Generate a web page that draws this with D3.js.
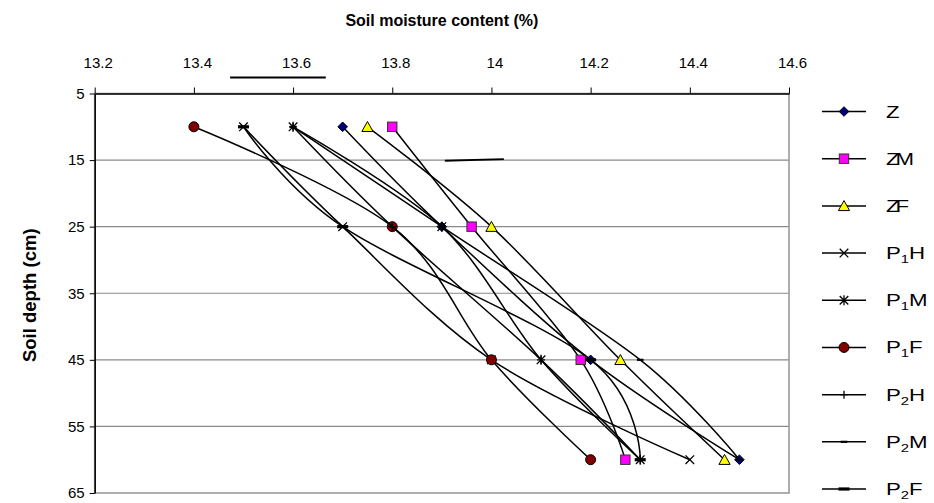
<!DOCTYPE html>
<html>
<head>
<meta charset="utf-8">
<script src="https://cdn.jsdelivr.net/npm/d3@7"></script>
<style>
  html, body { margin: 0; padding: 0; background: #fff; }
  svg { display: block; font-family: "Liberation Sans", Arial, sans-serif; }
</style>
</head>
<body>
<svg id="chart" width="934" height="503"></svg>
<script>
// ---- data ----
const depths = [10, 25, 45, 60];
const seriesNames = ["Z", "ZM", "ZF", "P1H", "P1M", "P1F", "P2H", "P2M", "P2F"];
const Z   = [13.7, 13.9, 14.2, 14.5];
const ZM  = [13.8, 13.96, 14.18, 14.27];
const ZF  = [13.75, 14.0, 14.26, 14.47];
const P1H = [13.5, 13.7, 14.0, 14.4];
const P1M = [13.6, 13.9, 14.1, 14.3];
const P1F = [13.4, 13.8, 14.0, 14.2];
const P2H = [13.6, 13.8, 14.1, 14.3];
const P2M = [13.6, 13.9, 14.3, 14.5];
const P2F = [13.5, 13.7, 14.2, 14.3];
const xTicks = [13.2, 13.4, 13.6, 13.8, 14, 14.2, 14.4, 14.6];
const xTickLabels = ["13.2", "13.4", "13.6", "13.8", "14", "14.2", "14.4", "14.6"];
const yTicks = [5, 15, 25, 35, 45, 55, 65];
// stray strokes visible on the original figure (data coordinates)
const strayStrokes = [
  [[13.906, 15.1], [14.025, 14.85]],
  [[13.473, 2.6], [13.666, 2.6]]
];

const seriesValues = [Z, ZM, ZF, P1H, P1M, P1F, P2H, P2M, P2F];

// ---- layout ----
const svg = d3.select("#chart");
const x = d3.scaleLinear().domain([13.2, 14.6]).range([94.7, 789]);
const y = d3.scaleLinear().domain([5, 65]).range([93.5, 493]);

// gridlines
svg.append("g").selectAll("line").data(yTicks.slice(1, -1)).join("line")
  .attr("x1", x.range()[0]).attr("x2", x.range()[1])
  .attr("y1", d => y(d)).attr("y2", d => y(d))
  .attr("stroke", "#8a8a8a").attr("stroke-width", 1.2);

// plot border (right/bottom gray)
svg.append("rect")
  .attr("x", x.range()[0]).attr("y", y.range()[0])
  .attr("width", x.range()[1] - x.range()[0]).attr("height", y.range()[1] - y.range()[0])
  .attr("fill", "none").attr("stroke", "#9a9a9a").attr("stroke-width", 1.6);

// axes
const xAxis = svg.append("g").attr("transform", `translate(0,${y.range()[0]})`)
  .call(d3.axisTop(x).tickValues(xTicks).tickSize(6).tickPadding(20)
    .tickFormat((d, i) => xTickLabels[i]).tickSizeOuter(0));
xAxis.select(".domain").attr("stroke", "#000").attr("stroke-width", 1.5);
xAxis.selectAll(".tick line").attr("stroke", "#000");
xAxis.selectAll("text").attr("font-size", 15).attr("fill", "#000").attr("dx", 3)
  .attr("font-family", "Liberation Sans, Arial, sans-serif");

const yAxis = svg.append("g").attr("transform", `translate(${x.range()[0]},0)`)
  .call(d3.axisLeft(y).tickValues(yTicks).tickSize(5).tickPadding(5).tickSizeOuter(0));
yAxis.select(".domain").attr("stroke", "#000").attr("stroke-width", 1.5);
yAxis.selectAll(".tick line").attr("stroke", "#000");
yAxis.selectAll("text").attr("font-size", 15).attr("fill", "#000")
  .attr("font-family", "Liberation Sans, Arial, sans-serif");

// titles
svg.append("text").attr("x", (x.range()[0] + x.range()[1]) / 2).attr("y", 26)
  .attr("text-anchor", "middle").attr("font-weight", "bold").attr("font-size", 16)
  .text("Soil moisture content (%)");
svg.append("text").attr("transform", `translate(36,${(y.range()[0] + y.range()[1]) / 2 + 2}) rotate(-90)`)
  .attr("text-anchor", "middle").attr("font-weight", "bold").attr("font-size", 18.5)
  .text("Soil depth (cm)");

// stray strokes
svg.append("g").selectAll("line").data(strayStrokes).join("line")
  .attr("x1", d => x(d[0][0])).attr("y1", d => y(d[0][1]))
  .attr("x2", d => x(d[1][0])).attr("y2", d => y(d[1][1]))
  .attr("stroke", "#000").attr("stroke-width", 1.8);

// ---- markers ----
function drawMarker(g, type) {
  const sw = 1;
  switch (type) {
    case "Z":
      g.append("path").attr("d", "M0,-4.8L4.8,0L0,4.8L-4.8,0Z").attr("fill", "#000080").attr("stroke", "#000").attr("stroke-width", sw); break;
    case "ZM":
      g.append("rect").attr("x", -4.7).attr("y", -4.7).attr("width", 9.4).attr("height", 9.4).attr("fill", "#ff00ff").attr("stroke", "#333").attr("stroke-width", sw); break;
    case "ZF":
      g.append("path").attr("d", "M0,-5.3L5.6,4.7L-5.6,4.7Z").attr("fill", "#ffff00").attr("stroke", "#000").attr("stroke-width", sw); break;
    case "P1H":
      g.append("path").attr("d", "M-4.3,-4.3L4.3,4.3M-4.3,4.3L4.3,-4.3").attr("stroke", "#000").attr("stroke-width", 1.3); break;
    case "P1M":
      g.append("path").attr("d", "M-4.3,-4.3L4.3,4.3M-4.3,4.3L4.3,-4.3M0,-5L0,5").attr("stroke", "#000").attr("stroke-width", 1.3); break;
    case "P1F":
      g.append("circle").attr("r", 5).attr("fill", "#800000").attr("stroke", "#000").attr("stroke-width", sw); break;
    case "P2H":
      g.append("path").attr("d", "M0,-4L0,4M-4,0L4,0").attr("stroke", "#000").attr("stroke-width", 1.3); break;
    case "P2M":
      g.append("rect").attr("x", -3.3).attr("y", -1.1).attr("width", 6.6).attr("height", 2.2).attr("fill", "#000"); break;
    case "P2F":
      g.append("rect").attr("x", -5.5).attr("y", -1.6).attr("width", 11).attr("height", 3.2).attr("fill", "#000"); break;
  }
}

// ---- series ----
const line = d3.line().x(d => x(d[0])).y(d => y(d[1])).curve(d3.curveCardinal.tension(0));
seriesNames.forEach((name, si) => {
  const pts = depths.map((dp, i) => [seriesValues[si][i], dp]);
  const g = svg.append("g");
  g.append("path").attr("d", line(pts)).attr("fill", "none").attr("stroke", "#000").attr("stroke-width", 1.5);
  pts.forEach(p => {
    const mg = g.append("g").attr("transform", `translate(${x(p[0])},${y(p[1])})`);
    drawMarker(mg, name);
  });
});

// ---- legend ----
const legendLabels = [
  [["Z", 0]], [["ZM", 0]], [["ZF", 0]],
  [["P", 0], ["1", 1], ["H", 0]], [["P", 0], ["1", 1], ["M", 0]], [["P", 0], ["1", 1], ["F", 0]],
  [["P", 0], ["2", 1], ["H", 0]], [["P", 0], ["2", 1], ["M", 0]], [["P", 0], ["2", 1], ["F", 0]]
];
const legY = d3.scaleLinear().domain([0, 8]).range([111.5, 489]);
seriesNames.forEach((name, i) => {
  const g = svg.append("g").attr("transform", `translate(0,${legY(i)})`);
  g.append("line").attr("x1", 822).attr("x2", 866).attr("y1", 0).attr("y2", 0).attr("stroke", "#000").attr("stroke-width", 1.5);
  const mg = g.append("g").attr("transform", "translate(844,0)");
  drawMarker(mg, name);
  const t = g.append("text").attr("transform", "translate(886,6) scale(1.35,1)").attr("font-size", 16.5)
    .attr("letter-spacing", (name === "ZM" || name === "ZF") ? -3 : 0);
  let prevSub = false;
  legendLabels[i].forEach(([s, sub]) => {
    const ts = t.append("tspan").text(s);
    if (sub) { ts.attr("font-size", 11).attr("dy", 4); prevSub = true; }
    else if (prevSub) { ts.attr("dy", -4); prevSub = false; }
  });
});
</script>
</body>
</html>
